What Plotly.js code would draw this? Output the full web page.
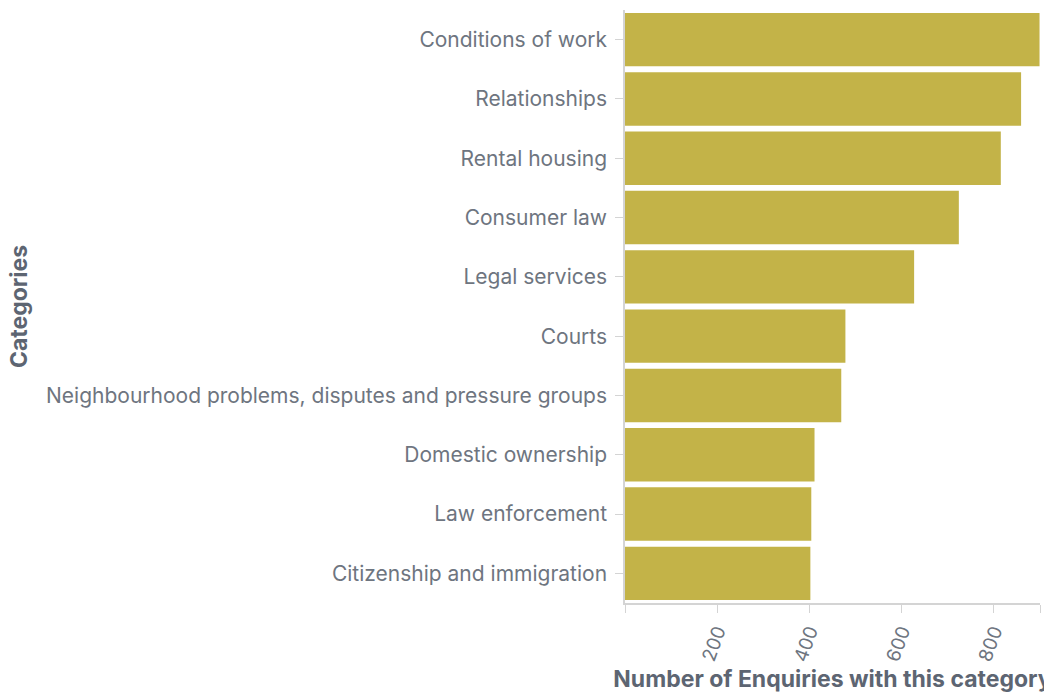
<!DOCTYPE html>
<html>
<head>
<meta charset="utf-8">
<script src="https://cdn.plot.ly/plotly-3.0.1.min.js"></script>
<style>html,body{margin:0;padding:0;background:#fff;}#chart{width:1044px;height:693px;}</style>
</head>
<body>
<div id="chart"></div>
<script>
const categories = [
  "Conditions of work",
  "Relationships",
  "Rental housing",
  "Consumer law",
  "Legal services",
  "Courts",
  "Neighbourhood problems, disputes and pressure groups",
  "Domestic ownership",
  "Law enforcement",
  "Citizenship and immigration"
];
const enquiries = [899, 859, 815, 724, 627, 478, 469, 411, 404, 402];
const xTickVals = [0, 200, 400, 600, 800, 900];
const xTickText = ["", "200", "400", "600", "800", ""];

const trace = {
  type: "bar",
  orientation: "h",
  x: enquiries,
  y: categories,
  marker: {color: "#c3b348"},
  hoverinfo: "x+y"
};

const layout = {
  width: 1044,
  height: 693,
  margin: {l: 625, r: 4, t: 10, b: 90},
  paper_bgcolor: "#ffffff",
  plot_bgcolor: "#ffffff",
  bargap: 0.1,
  showlegend: false,
  font: {family: "Inter, 'Noto Sans', sans-serif", color: "#6e7580"},
  xaxis: {
    range: [0, 900],
    tickvals: xTickVals,
    ticktext: xTickText,
    tickangle: -70,
    ticks: "outside",
    ticklen: 8,
    tickcolor: "#d4d4d4",
    showgrid: false,
    zeroline: false,
    showline: true,
    linecolor: "#d4d4d4",
    linewidth: 1.5,
    tickfont: {size: 19, color: "#6e7580"},
    title: {text: "Number of Enquiries with this category", font: {size: 23, color: "#5d6572", family: "Inter, 'Noto Sans', sans-serif", weight: "bold"}, standoff: 8}
  },
  yaxis: {
    autorange: "reversed",
    ticks: "outside",
    ticklen: 8,
    tickcolor: "#d4d4d4",
    showgrid: false,
    zeroline: false,
    showline: true,
    linecolor: "#d4d4d4",
    linewidth: 1.5,
    ticklabelstandoff: 4,
    tickfont: {size: 21, color: "#6e7580"},
    title: {text: "Categories", font: {size: 23, color: "#5d6572", family: "Inter, 'Noto Sans', sans-serif", weight: "bold"}, standoff: 12}
  }
};

Plotly.newPlot("chart", [trace], layout, {displayModeBar: false, staticPlot: false});
</script>
</body>
</html>
